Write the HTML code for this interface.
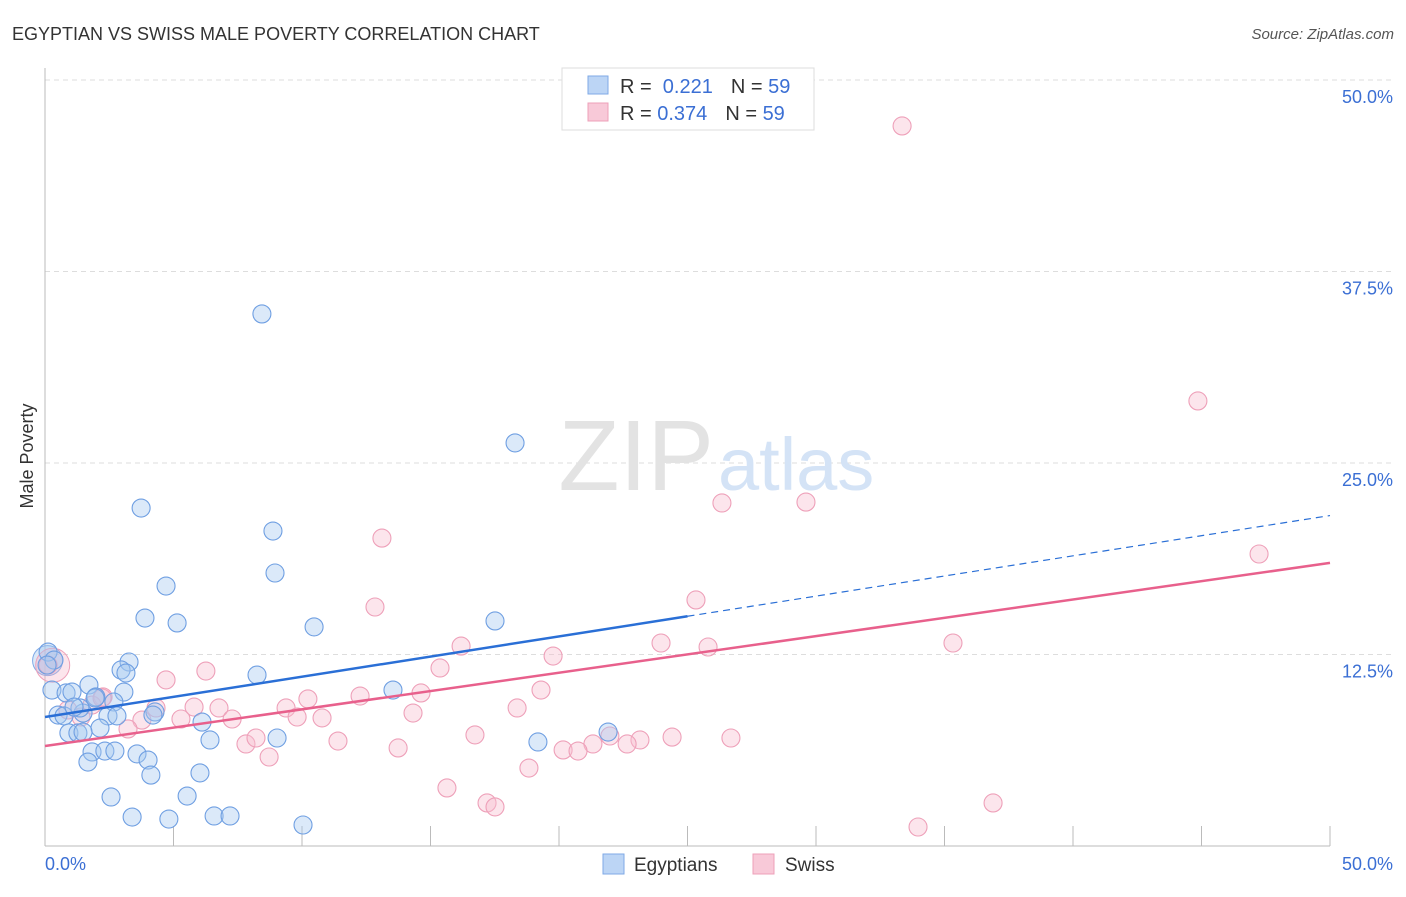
<!DOCTYPE html>
<html><head><meta charset="utf-8"><style>
body{margin:0;background:#fff;font-family:"Liberation Sans",sans-serif;}
svg text{font-family:"Liberation Sans",sans-serif;}
</style></head><body>
<svg width="1406" height="892" xmlns="http://www.w3.org/2000/svg">
<text x="12" y="40" font-size="18" fill="#333">EGYPTIAN VS SWISS MALE POVERTY CORRELATION CHART</text>
<text x="1394" y="39" font-size="15" fill="#555" font-style="italic" text-anchor="end">Source: ZipAtlas.com</text>
<g id="grid"></g>
<text x="714" y="490" font-size="100" fill="#e3e3e3" text-anchor="end" font-family="Liberation Serif">ZIP</text>
<text x="718" y="490" font-size="74" fill="#d4e3f6">atlas</text>
<g id="marks"></g>
<text x="33" y="456" font-size="18" fill="#333" text-anchor="middle" transform="rotate(-90 33 456)">Male Poverty</text>
<g>
<rect x="562" y="68" width="252" height="62" fill="#fff" stroke="#ddd"/>
<rect x="588" y="76" width="20" height="18" fill="#bcd5f5" stroke="#7fa9e6"/>
<rect x="588" y="103" width="20" height="18" fill="#f8c9d8" stroke="#eea0b9"/>
<text x="620" y="93" font-size="20" fill="#333">R = <tspan fill="#3b6fd4">&#160;0.221</tspan><tspan dx="18">N = </tspan><tspan fill="#3b6fd4">59</tspan></text>
<text x="620" y="120" font-size="20" fill="#333">R = <tspan fill="#3b6fd4">0.374</tspan><tspan dx="18">N = </tspan><tspan fill="#3b6fd4">59</tspan></text>
</g>
<g>
<rect x="603" y="854" width="21" height="20" fill="#bcd5f5" stroke="#7fa9e6"/>
<text x="634" y="871" font-size="19" fill="#333">Egyptians</text>
<rect x="753" y="854" width="21" height="20" fill="#f8c9d8" stroke="#eea0b9"/>
<text x="785" y="871" font-size="19" fill="#333">Swiss</text>
</g>
</svg>
<script>
const yTicks=[12.5,25,37.5,50];
const yTickLabels=["12.5%","25.0%","37.5%","50.0%"];
const xTickLabels=["0.0%","50.0%"];
const blueX=[8.44,18.29,3.74,8.87,8.95,4.71,3.89,5.14,10.47,17.51,0.12,0.35,3.27,2.96,3.15,8.25,1.71,0.27,0.82,1.05,3.07,13.54,1.98,2.68,0.51,0.74,1.48,2.45,2.80,4.28,4.20,6.11,2.14,0.93,1.28,1.48,6.42,9.03,19.18,21.91,1.83,2.33,2.72,3.58,1.67,4.01,4.12,6.03,2.57,5.53,3.39,4.82,6.58,7.20,10.04,0.08,1.36,1.13,1.95];
const blueY=[34.73,26.31,22.06,20.56,17.82,16.97,14.88,14.56,14.30,14.69,12.66,12.14,12.01,11.49,11.29,11.16,10.51,10.18,9.99,10.05,10.05,10.18,9.73,9.40,8.55,8.49,8.68,8.49,8.49,8.75,8.55,8.09,7.70,7.38,7.38,7.44,6.92,7.05,6.79,7.44,6.14,6.20,6.20,6.01,5.48,5.61,4.63,4.77,3.20,3.26,1.89,1.76,1.96,1.96,1.37,11.81,9.01,9.07,9.66];
const pinkX=[33.35,44.86,13.11,26.34,29.61,47.24,12.84,25.33,16.19,23.97,25.80,35.33,19.77,15.37,6.26,4.71,0.12,19.30,14.63,10.23,12.26,2.26,1.83,9.38,5.80,6.77,4.32,14.32,18.37,9.81,10.78,5.29,7.28,0.89,1.40,3.77,3.23,11.40,16.73,21.98,21.32,24.40,23.15,20.16,20.74,22.65,26.69,7.82,8.21,8.72,13.74,18.83,15.64,17.20,17.51,36.89,33.97,2.22];
const pinkY=[47.00,29.05,20.10,22.39,22.45,19.06,15.60,16.06,13.05,13.25,12.99,13.25,12.40,11.62,11.42,10.84,11.81,10.18,9.99,9.60,9.79,9.73,9.20,9.01,9.07,9.01,9.01,8.68,9.01,8.42,8.36,8.29,8.29,8.88,8.42,8.22,7.64,6.85,7.25,7.18,6.66,7.11,6.92,6.27,6.20,6.66,7.05,6.66,7.05,5.81,6.40,5.09,3.79,2.81,2.55,2.81,1.24,9.66];
const blueLine=[8.42,0.263]; // intercept, slope
const pinkLine=[6.53,0.239];
const NS="http://www.w3.org/2000/svg";
const sx=v=>45+v*25.7, sy=v=>846-v*15.32;
function mk(tag,attrs,parent){const e=document.createElementNS(NS,tag);for(const k in attrs)e.setAttribute(k,attrs[k]);parent.appendChild(e);return e;}
const grid=document.getElementById('grid'), marks=document.getElementById('marks');
yTicks.forEach((t,i)=>{
  const l=mk('line',{x1:45,x2:1393,y1:sy(t),y2:sy(t),stroke:'#ddd','stroke-dasharray':'5,4'},grid);
  
  
  const tx=mk('text',{x:1393,y:sy(t)+23,'font-size':18,fill:'#3b6fd4','text-anchor':'end'},grid);
  tx.textContent=yTickLabels[i];
  
  
});
const ax=mk('line',{x1:45,x2:1330,y1:846,y2:846,stroke:'#bbb'},grid);


const ay=mk('line',{x1:45,x2:45,y1:68,y2:846,stroke:'#bbb'},grid);


for(let v=0;v<=50;v+=5){
  const t=mk('line',{x1:sx(v),x2:sx(v),y1:826,y2:846,stroke:'#bbb'},grid);
  
  
}
[[0,'start',45],[50,'end',1393]].forEach((d,i)=>{
  const t=mk('text',{x:d[2],y:870,'font-size':18,fill:'#3b6fd4','text-anchor':d[1]},grid);
  t.textContent=xTickLabels[i];
  
  
});
function pts(X,Y,fill,stroke,name){
  X.forEach((x,i)=>{
    const c=mk('circle',{cx:sx(x),cy:sy(Y[i]),r:9,fill:fill,stroke:stroke,'stroke-width':1.1},marks);
    
    
  });
}
const bb=mk('circle',{cx:sx(0.1),cy:sy(12.1),r:15,fill:'rgba(164,199,240,0.4)',stroke:'#7fa9e6'},marks);


const pb=mk('circle',{cx:sx(0.3),cy:sy(11.8),r:17,fill:'rgba(245,180,200,0.35)',stroke:'#eea0b9'},marks);


pts(pinkX,pinkY,'rgba(248,190,208,0.4)','#eea0b9','swiss-point');
pts(blueX,blueY,'rgba(164,199,240,0.4)','#6f9fe2','egyptian-point');
const bl=mk('line',{x1:sx(0),y1:sy(blueLine[0]),x2:sx(25),y2:sy(blueLine[0]+25*blueLine[1]),stroke:'#2a6fd6','stroke-width':2.5},marks);


const bd=mk('line',{x1:sx(25),y1:sy(blueLine[0]+25*blueLine[1]),x2:sx(50),y2:sy(blueLine[0]+50*blueLine[1]),stroke:'#2a6fd6','stroke-width':1.2,'stroke-dasharray':'7,5'},marks);


const pl=mk('line',{x1:sx(0),y1:sy(pinkLine[0]),x2:sx(50),y2:sy(pinkLine[0]+50*pinkLine[1]),stroke:'#e8608c','stroke-width':2.5},marks);


</script>
</body></html>
